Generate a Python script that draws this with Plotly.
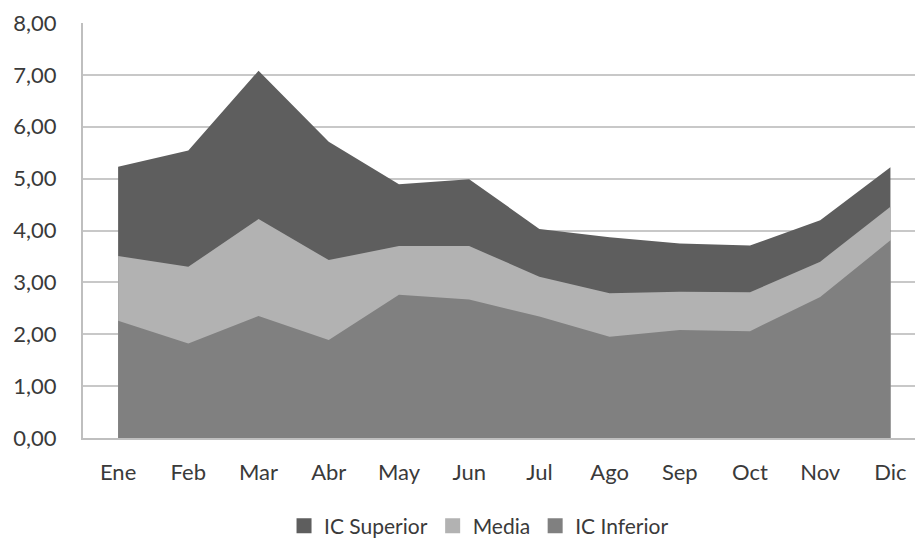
import plotly.graph_objects as go

months = ["Ene", "Feb", "Mar", "Abr", "May", "Jun", "Jul", "Ago", "Sep", "Oct", "Nov", "Dic"]
ic_superior = [5.23, 5.54, 7.08, 5.71, 4.89, 4.99, 4.03, 3.87, 3.75, 3.71, 4.20, 5.22]
media = [3.51, 3.30, 4.22, 3.43, 3.70, 3.70, 3.11, 2.79, 2.82, 2.81, 3.40, 4.46]
ic_inferior = [2.26, 1.82, 2.35, 1.89, 2.76, 2.67, 2.34, 1.95, 2.08, 2.06, 2.72, 3.81]
y_ticks = [0, 1, 2, 3, 4, 5, 6, 7, 8]

series = [
    ("IC Superior", ic_superior, "rgb(94,94,94)"),
    ("Media", media, "rgb(178,178,178)"),
    ("IC Inferior", ic_inferior, "rgb(128,128,128)"),
]

fig = go.Figure()
for name, vals, col in series:
    fig.add_trace(go.Scatter(
        x=months, y=vals, name=name, mode="lines",
        fill="tozeroy", fillcolor=col,
        line=dict(width=0, color=col),
        showlegend=False, legendgroup=name,
        hoverinfo="x+y+name",
    ))
# legend-only square swatches
for name, vals, col in series:
    fig.add_trace(go.Scatter(
        x=[None], y=[None], name=name, mode="markers",
        marker=dict(symbol="square", size=15, color=col),
        showlegend=True, legendgroup=name,
    ))

font_family = "Lato, 'Open Sans', sans-serif"
text_col = "#3a3a3a"
fig.update_layout(
    width=915, height=539,
    margin=dict(l=83, r=0, t=23, b=101, autoexpand=False),
    plot_bgcolor="white", paper_bgcolor="white",
    separators=",.",
    font=dict(family=font_family, size=22, color=text_col),
    showlegend=True,
    legend=dict(
        orientation="h", xref="paper", yref="paper",
        x=0.476, xanchor="center", y=-0.212, yanchor="middle",
        font=dict(size=21, color=text_col),
        itemwidth=30, traceorder="normal",
        tracegroupgap=0,
    ),
    xaxis=dict(
        type="category", range=[-0.5, 11.35],
        showgrid=False, showline=True, linecolor="#bfbfbf", linewidth=2,
        ticks="", ticklabelstandoff=14,
        tickfont=dict(size=22, color=text_col),
    ),
    yaxis=dict(
        range=[0, 8], tickvals=y_ticks, tickformat=".2f",
        showgrid=True, gridcolor="#c8c8c8", gridwidth=2,
        showline=True, linecolor="#bfbfbf", linewidth=2,
        ticks="", ticklabelstandoff=20, zeroline=False,
        tickfont=dict(size=22, color=text_col),
    ),
)

fig.write_html("out.html")
